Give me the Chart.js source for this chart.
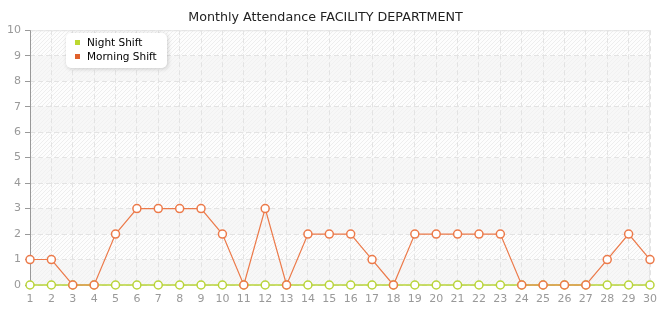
<!DOCTYPE html>
<html>
<head>
<meta charset="utf-8">
<script src="https://cdn.jsdelivr.net/npm/chart.js@4"></script>
<style>
  html, body { margin: 0; padding: 0; background: #fff; }
  #wrap { width: 665px; height: 320px; position: relative; }
</style>
</head>
<body>
<div id="wrap"><canvas id="chart"></canvas></div>
<script>
// ── Data ────────────────────────────────────────────
const DAYS = Array.from({ length: 30 }, (_, i) => String(i + 1));
const NIGHT_SHIFT = [0, 0, 0, 0, 0, 0, 0, 0, 0, 0, 0, 0, 0, 0, 0, 0, 0, 0, 0, 0, 0, 0, 0, 0, 0, 0, 0, 0, 0, 0];
const MORNING_SHIFT = [1, 1, 0, 0, 2, 3, 3, 3, 3, 2, 0, 3, 0, 2, 2, 2, 1, 0, 2, 2, 2, 2, 2, 0, 0, 0, 0, 1, 2, 1];
const SERIES_NAMES = ['Night Shift', 'Morning Shift'];

const COLORS = {
  night: '#b9d43a',
  nightBox: '#bcd82f',
  morning: '#ec7a4a',
  morningBox: '#e0612c',
  grid: '#e3e3e3',
  text: '#999',
};

function hatch(ctx, base, line) {
  const pc = document.createElement('canvas');
  pc.width = 4; pc.height = 4;
  const p = pc.getContext('2d');
  p.fillStyle = base;
  p.fillRect(0, 0, 4, 4);
  p.strokeStyle = line;
  p.lineWidth = 1;
  p.beginPath();
  p.moveTo(0, 4); p.lineTo(4, 0);
  p.moveTo(-1, 1); p.lineTo(1, -1);
  p.moveTo(3, 5); p.lineTo(5, 3);
  p.stroke();
  return ctx.createPattern(pc, 'repeat');
}

// hatched backdrop with alternating bands
const bandPlugin = {
  id: 'bands',
  beforeDraw(chart) {
    const { ctx, chartArea: a, scales: { y } } = chart;
    const light = hatch(ctx, '#fdfdfd', '#eeeeee');
    const dark = hatch(ctx, '#f7f7f7', '#f1f1f1');
    ctx.save();
    for (let v = 0; v < 10; v++) {
      const top = y.getPixelForValue(v + 1), bot = y.getPixelForValue(v);
      ctx.fillStyle = v % 2 === 1 ? light : dark;
      ctx.fillRect(a.left, top, a.right - a.left, bot - top);
    }
    ctx.restore();
  },
  beforeDatasetsDraw(chart) {
    const { ctx, chartArea: a } = chart;
    ctx.save();
    ctx.strokeStyle = '#e6e6e6';
    ctx.lineWidth = 1;
    ctx.beginPath();
    ctx.moveTo(a.left, a.top + 0.5); ctx.lineTo(a.right, a.top + 0.5);
    ctx.moveTo(a.right - 0.5, a.top); ctx.lineTo(a.right - 0.5, a.bottom);
    ctx.stroke();
    ctx.strokeStyle = '#999';
    ctx.beginPath();
    ctx.moveTo(a.left + 0.5, a.top); ctx.lineTo(a.left + 0.5, a.bottom);
    ctx.stroke();
    ctx.restore();
  },
};

// floating legend box inside plot
const legendPlugin = {
  id: 'boxLegend',
  afterDraw(chart) {
    const { ctx } = chart;
    const x = 66, y = 33, w = 101, h = 35;
    ctx.save();
    ctx.shadowColor = 'rgba(0,0,0,0.18)';
    ctx.shadowBlur = 4;
    ctx.shadowOffsetX = 1;
    ctx.shadowOffsetY = 1;
    ctx.fillStyle = '#fff';
    ctx.beginPath();
    ctx.roundRect(x, y, w, h, 5);
    ctx.fill();
    ctx.restore();
    ctx.save();
    ctx.font = '10.5px "DejaVu Sans"';
    ctx.textBaseline = 'middle';
    const boxes = [COLORS.nightBox, COLORS.morningBox];
    chart.data.datasets.forEach((ds, i) => {
      const cy = y + 10 + i * 14;
      ctx.fillStyle = boxes[i];
      ctx.fillRect(x + 9, cy - 3, 5, 5);
      ctx.fillStyle = '#000';
      ctx.fillText(ds.label, x + 21, cy);
    });
    ctx.restore();
  },
};

new Chart(document.getElementById('chart'), {
  type: 'line',
  data: {
    labels: DAYS,
    datasets: [
      {
        label: SERIES_NAMES[0],
        data: NIGHT_SHIFT,
        borderColor: COLORS.night,
        borderWidth: 1.5,
        pointBackgroundColor: '#fff',
        pointBorderColor: COLORS.night,
        pointBorderWidth: 1.5,
        pointRadius: 4,
        tension: 0,
        clip: false,
        order: 2,
      },
      {
        label: SERIES_NAMES[1],
        data: MORNING_SHIFT,
        borderColor: COLORS.morning,
        borderWidth: 1.2,
        pointBackgroundColor: '#fff',
        pointBorderColor: COLORS.morning,
        pointBorderWidth: 1.5,
        pointRadius: 4,
        tension: 0,
        clip: false,
        order: 1,
      },
    ],
  },
  options: {
    responsive: true, maintainAspectRatio: false,
    animation: false,
    layout: { padding: { left: 0, right: 14, top: 0, bottom: 0 } },
    plugins: {
      legend: { display: false },
      tooltip: { enabled: false },
      title: {
        display: true,
        text: 'Monthly Attendance FACILITY DEPARTMENT',
        color: '#222',
        font: { family: 'DejaVu Sans', size: 12.7, weight: 'normal' },
        padding: { top: 10, bottom: 5 },
      },
    },
    scales: {
      x: {
        offset: false,
        grid: { color: COLORS.grid, drawTicks: false },
        border: { display: false, dash: [5, 3] },
        ticks: { color: COLORS.text, font: { family: 'DejaVu Sans', size: 11 }, padding: 8, maxRotation: 0, autoSkip: false },
        afterFit: s => { s.height = 35; },
      },
      y: {
        min: 0, max: 10,
        grid: { color: COLORS.grid, tickColor: '#999', tickLength: 5, drawTicks: true },
        border: { display: false, dash: [5, 3] },
        ticks: { stepSize: 1, color: COLORS.text, font: { family: 'DejaVu Sans', size: 11 }, padding: 4 },
        afterFit: s => { s.width = 30; },
      },
    },
  },
  plugins: [bandPlugin, legendPlugin],
});
</script>
</body>
</html>
